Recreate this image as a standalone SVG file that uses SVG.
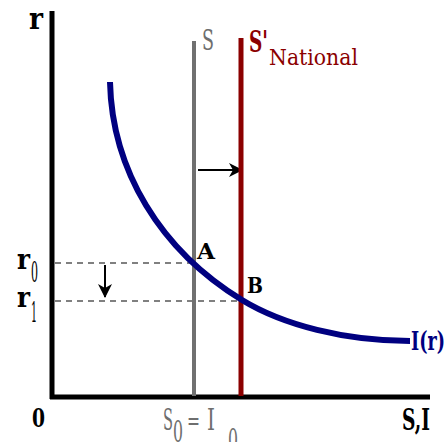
<svg xmlns="http://www.w3.org/2000/svg" width="447" height="442" viewBox="0 0 447 442">
<style>
text{font-family:"DejaVu Serif","Liberation Serif",serif;}
.b{font-weight:bold;}
.k{fill:#000;}
.g{fill:#6e6e6e;}
.rd{fill:#8b0000;}
.nv{fill:#000080;}
.dash{stroke:#808080;stroke-width:2;stroke-dasharray:6,5;fill:none;}
.arr{stroke:#000;stroke-width:2;fill:none;}
</style>
<defs>
<marker id="ah2" markerWidth="14" markerHeight="15" refX="13" refY="7" orient="auto" markerUnits="userSpaceOnUse">
<path d="M0,0 L14,7 L0,14 L4,7 Z" fill="#000"/>
</marker>
</defs>
<g id="axes">
<line x1="52" y1="11" x2="52" y2="399" stroke="#000" stroke-width="5"/>
<line x1="50" y1="397" x2="430" y2="397" stroke="#000" stroke-width="5"/>
<text class="b k" x="29" y="29" font-size="30" textLength="14" lengthAdjust="spacingAndGlyphs">r</text>
<text class="b k" x="32" y="427" font-size="26" textLength="13" lengthAdjust="spacingAndGlyphs">0</text>
<text class="b k" x="402" y="430" font-size="30" textLength="28" lengthAdjust="spacingAndGlyphs">S,I</text>
</g>
<g id="connectors">
<line class="dash" x1="55" y1="263" x2="192" y2="263"/>
<line class="dash" x1="55" y1="301" x2="240" y2="301"/>
<line class="arr" x1="105" y1="265" x2="105" y2="297" marker-end="url(#ah2)"/>
<line class="arr" x1="198" y1="170" x2="242" y2="170" marker-end="url(#ah2)"/>
</g>
<g id="S">
<line x1="194" y1="41" x2="194" y2="396" stroke="#707070" stroke-width="4"/>
<text class="g" x="202" y="50" font-size="27" textLength="12" lengthAdjust="spacingAndGlyphs">S</text>
</g>
<g id="SNational">
<line x1="241" y1="38" x2="241" y2="396" stroke="#8b0000" stroke-width="5"/>
<text class="b rd" x="249" y="52" font-size="30" textLength="19" lengthAdjust="spacingAndGlyphs">S'</text>
<text class="rd" x="269" y="65" font-size="23" textLength="89" lengthAdjust="spacingAndGlyphs">National</text>
</g>
<g id="Ir">
<path d="M110,82 C112,170 160,250 242,300 C283,325 345,341 410,341" fill="none" stroke="#000080" stroke-width="6"/>
<text class="b nv" x="411" y="350" font-size="26" textLength="34" lengthAdjust="spacingAndGlyphs">I(r)</text>
</g>
<g id="A">
<text class="b k" x="197" y="259" font-size="22" textLength="18" lengthAdjust="spacingAndGlyphs">A</text>
</g>
<g id="B">
<text class="b k" x="247" y="293" font-size="22" textLength="16" lengthAdjust="spacingAndGlyphs">B</text>
</g>
<g id="r0">
<text class="b k" x="17" y="269" font-size="28" textLength="13" lengthAdjust="spacingAndGlyphs">r</text>
<text class="k" x="31" y="282" font-size="27" textLength="7" lengthAdjust="spacingAndGlyphs">0</text>
</g>
<g id="r1">
<text class="b k" x="17" y="307" font-size="28" textLength="13" lengthAdjust="spacingAndGlyphs">r</text>
<text class="k" x="31" y="322" font-size="27" textLength="6" lengthAdjust="spacingAndGlyphs">1</text>
</g>
<g id="S0I0">
<text class="g" x="163" y="430" font-size="30" textLength="10" lengthAdjust="spacingAndGlyphs">S</text>
<text class="g" x="173" y="442" font-size="29" textLength="10" lengthAdjust="spacingAndGlyphs">0</text>
<text class="g" x="187" y="430" font-size="26" textLength="13" lengthAdjust="spacingAndGlyphs">=</text>
<text class="g" x="207" y="430" font-size="30" textLength="8" lengthAdjust="spacingAndGlyphs">I</text>
<text class="g" x="228" y="450" font-size="29" textLength="10" lengthAdjust="spacingAndGlyphs">0</text>
</g>
</svg>
